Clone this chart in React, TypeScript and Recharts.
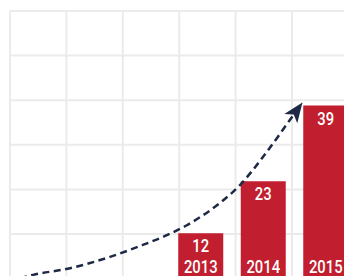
import { ComposedChart, Bar, Line, XAxis, YAxis, CartesianGrid, LabelList } from 'recharts';

const years = ['2013', '2014', '2015'];
const counts = [12, 23, 39];

// dashed growth curve (x in years, y in counts)
const trendYears = [2010.11, 2010.32, 2010.91, 2011.55, 2012.03, 2012.46, 2012.78, 2012.99, 2013.31, 2013.63, 2013.95, 2014.22, 2014.43, 2014.62];
const trendValues = [2.5, 3.2, 4.6, 7.0, 9.3, 11.6, 13.7, 15.4, 18.4, 22.2, 27.3, 32.1, 36.0, 39.5];

const barData = years.map((year, i) => ({ year, count: counts[i] }));
const trendData = trendYears.map((t, i) => ({ t, trend: trendValues[i] }));

const RED = '#c11f2f';
const NAVY = '#1e2945';
const GRID = '#ebebeb';
const FONT = 'Roboto, "Liberation Sans Narrow", sans-serif';

const colLines = ({ offset }: any) => Array.from({ length: 7 }, (_, i) => offset.left + i * 56.4);
const rowLines = ({ offset }: any) => Array.from({ length: 7 }, (_, i) => offset.top + i * 44.6);

// condensed white labels inside the bars
const CondensedText = ({ x, y, value }: { x: number; y: number; value: any }) => {
  const s = String(value);
  return (
    <text
      x={x}
      y={y}
      textAnchor="middle"
      fill="#fff"
      fontSize={18}
      fontWeight={500}
      fontFamily={FONT}
      textLength={s.length * 8.4}
      lengthAdjust="spacingAndGlyphs"
    >
      {s}
    </text>
  );
};

const valueLabel = (props: any) => (
  <CondensedText x={props.x + props.width / 2} y={props.y + 19} value={props.value} />
);
const yearLabel = (props: any) => (
  <CondensedText x={props.x + props.width / 2} y={props.y + props.height - 17} value={props.value} />
);

export default function App() {
  return (
    <div style={{ position: 'absolute', left: 0, top: 0, width: 344, height: 276, overflow: 'hidden', background: '#fff' }}>
      <ComposedChart
        width={360}
        height={290}
        data={barData}
        margin={{ top: 11, right: 0, bottom: 0, left: 10 }}
      >
        <defs>
          <marker
            id="arrow"
            markerUnits="userSpaceOnUse"
            markerWidth={20}
            markerHeight={20}
            viewBox="0 0 20 20"
            refX={19}
            refY={10}
            orient="auto"
          >
            <path d="M0,2 L20,10 L0,18 L5,10 Z" fill={NAVY} />
          </marker>
        </defs>
        <CartesianGrid
          stroke={GRID}
          strokeWidth={2}
          verticalCoordinatesGenerator={colLines}
          horizontalCoordinatesGenerator={rowLines}
        />
        <XAxis xAxisId="cat" type="category" dataKey="year" padding={{ left: 159.25, right: 3.25 }} hide />
        <XAxis xAxisId="num" type="number" dataKey="t" domain={[2009.95, 2015.55]} allowDataOverflow hide />
        <YAxis type="number" domain={[0, 59]} allowDataOverflow hide />
        <Bar xAxisId="cat" dataKey="count" fill={RED} barSize={45} isAnimationActive={false}>
          <LabelList dataKey="count" content={valueLabel} />
          <LabelList dataKey="year" content={yearLabel} />
        </Bar>
        <Line
          xAxisId="num"
          data={trendData}
          dataKey="trend"
          type="monotone"
          stroke={NAVY}
          strokeWidth={2.5}
          strokeDasharray="7 4.5"
          dot={false}
          activeDot={false}
          markerEnd="url(#arrow)"
          isAnimationActive={false}
        />
      </ComposedChart>
    </div>
  );
}
